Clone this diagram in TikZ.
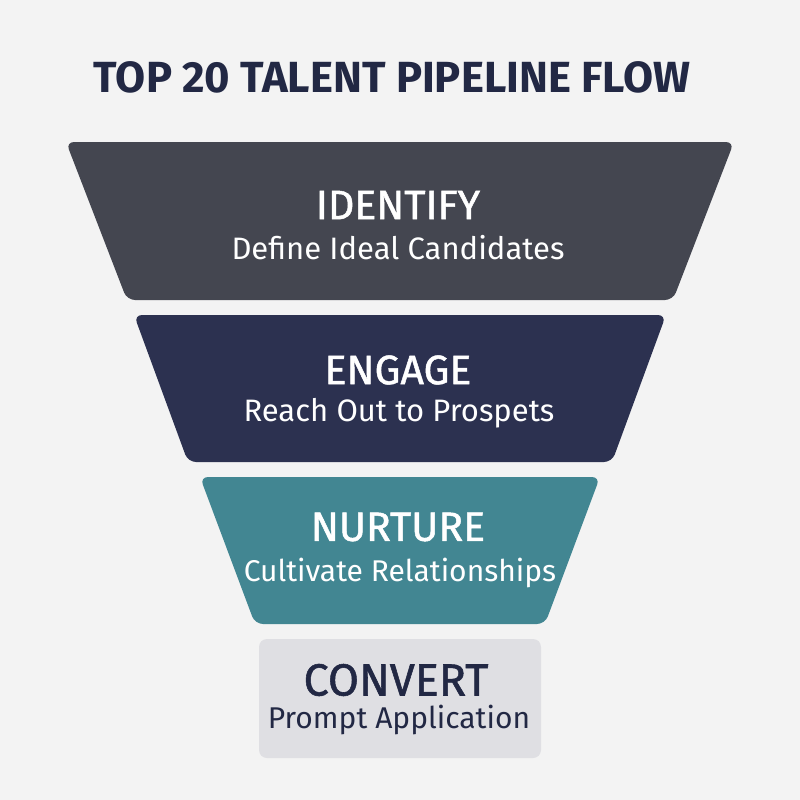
\documentclass[tikz,border=0pt]{standalone}
\usepackage{fontspec}
\setmainfont{Fira Sans}
\newfontfamily\medfont{Fira Sans}[FakeBold=1.2]

\definecolor{bgcol}{HTML}{F3F3F3}
\definecolor{identcol}{HTML}{444650}
\definecolor{engagecol}{HTML}{2C3150}
\definecolor{nurturecol}{HTML}{428692}
\definecolor{convertcol}{HTML}{DFDFE3}
\definecolor{inkcol}{HTML}{222844}

\tikzset{
  stage/.style={rounded corners=4pt},
  headtext/.style={font=\medfont\fontsize{20.5}{22}\selectfont, text=white},
  subtext/.style={font=\fontsize{15.5}{17}\selectfont, text=white}
}

\begin{document}
\begin{tikzpicture}[x=0.5pt,y=-0.5pt]
    % background
    \fill[bgcol] (0,0) rectangle (800,800);
    \useasboundingbox (0,0) rectangle (800,800);

    % title
    \node[font=\fontsize{21.8}{24}\selectfont\bfseries, text=inkcol] (title) at (392,77) {TOP 20 TALENT PIPELINE FLOW};

    % draw funnel stages
    \fill[identcol, stage] (66,142) -- (734,142) -- (673,300) -- (127,300) -- cycle;
    \fill[engagecol, stage] (134,315) -- (666,315) -- (612,462) -- (188,462) -- cycle;
    \fill[nurturecol, stage] (200,477) -- (600,477) -- (545,624) -- (255,624) -- cycle;
    \fill[convertcol, stage] (259,639) rectangle (541,758);

    % draw nodes
    \node[headtext] (identify) at (398,205) {IDENTIFY};
    \node[subtext] (identifysub) at (398,248) {Define Ideal Candidates};
    \node[headtext] (engage) at (398,370) {ENGAGE};
    \node[subtext] (engagesub) at (399,413) {Reach Out to Prospets};
    \node[headtext] (nurture) at (398,527) {NURTURE};
    \node[subtext, font=\fontsize{15}{17}\selectfont] (nurturesub) at (400,573) {Cultivate Relationships};
    \node[headtext, text=inkcol, font=\medfont\fontsize{22.5}{24}\selectfont] (convert) at (396,680) {CONVERT};
    \node[subtext, text=inkcol, font=\fontsize{15}{17}\selectfont] (convertsub) at (399,720) {Prompt Application};
  \end{tikzpicture}
\end{document}
